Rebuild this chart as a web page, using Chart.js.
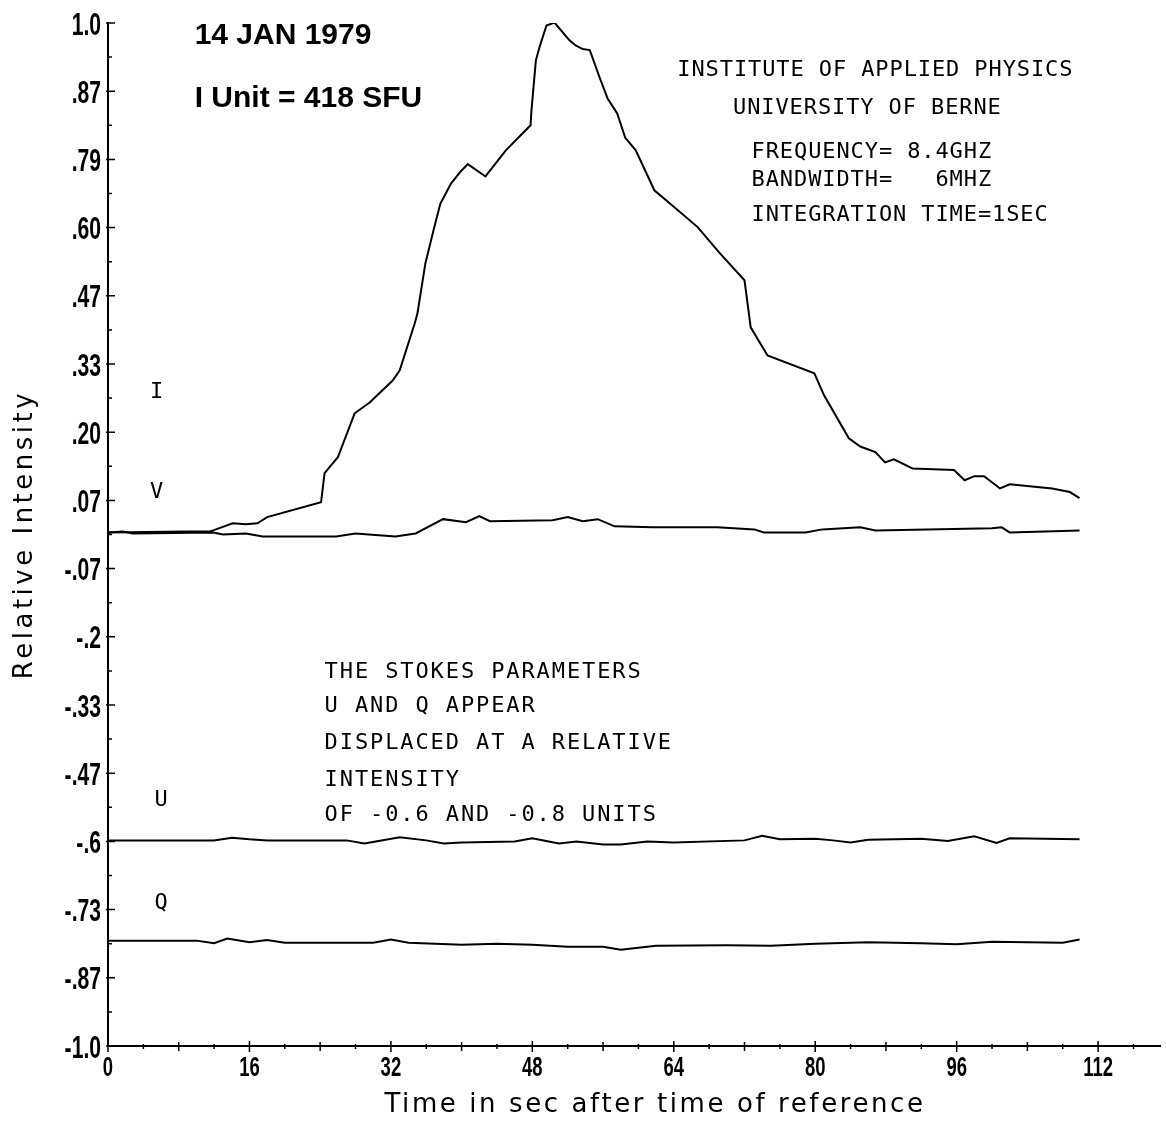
<!DOCTYPE html>
<html>
<head>
<meta charset="utf-8">
<title>14 JAN 1979 - Stokes parameters, 8.4 GHz</title>
<script src="https://cdn.jsdelivr.net/npm/chart.js@4.4.1/dist/chart.umd.min.js"></script>
<style>
  html, body { margin: 0; padding: 0; background: #fff; }
  #wrap { width: 1166px; height: 1121px; position: relative; }
</style>
</head>
<body>
<div id="wrap"><canvas id="stokes"></canvas></div>
<script>
// Values: time in sec, relative intensity (1 unit = 418 SFU)
const iTimes = [0, 8.8, 11.5, 11.9, 14.1, 15.6, 16.9, 18.0, 24.1, 24.5, 26.0, 27.9, 29.6, 32.2, 33.0,
  34.7, 35.0, 35.9, 36.9, 37.6, 38.8, 39.8, 40.7, 42.7, 45.0, 47.8, 47.9, 48.4, 48.8, 49.6,
  50.5, 52.2, 52.9, 53.7, 54.5, 55.6, 56.5, 57.6, 58.5, 59.7, 61.8, 63.5, 66.7, 69.2, 72.0,
  72.7, 74.6, 79.9, 81.0, 83.8, 85.1, 86.8, 87.9, 88.9, 91.0, 95.7, 96.9, 98.0, 99.1, 100.9,
  102.0, 106.8, 108.8, 109.9];
const iValues = [0.004, 0.006, 0.006, 0.008, 0.022, 0.020, 0.022, 0.034, 0.063, 0.12, 0.151, 0.237, 0.258, 0.301, 0.321,
  0.413, 0.432, 0.530, 0.600, 0.647, 0.686, 0.708, 0.724, 0.700, 0.751, 0.800, 0.829, 0.927, 0.952, 0.995,
  1.001, 0.966, 0.956, 0.949, 0.947, 0.894, 0.853, 0.823, 0.776, 0.751, 0.673, 0.648, 0.601, 0.550, 0.497,
  0.405, 0.350, 0.315, 0.272, 0.188, 0.172, 0.161, 0.141, 0.147, 0.129, 0.126, 0.106, 0.114, 0.114, 0.090,
  0.098, 0.090, 0.083, 0.071];

const vTimes = [0, 1.7, 2.8, 11.9, 13.0, 15.6, 17.5, 25.8, 28.0, 32.5, 34.8, 37.9, 40.5, 42.0, 43.2, 50.3,
  52.0, 53.7, 55.4, 57.3, 61.6, 68.9, 73.1, 74.2, 78.9, 80.8, 85.1, 86.8, 100.0, 101.1, 102.0, 109.9];
const vValues = [0.004, 0.006, 0.002, 0.004, 0.0, 0.002, -0.004, -0.004, 0.002, -0.004, 0.002, 0.030, 0.024, 0.036, 0.026, 0.028,
  0.034, 0.026, 0.030, 0.016, 0.014, 0.014, 0.010, 0.004, 0.004, 0.010, 0.014, 0.008, 0.012, 0.014, 0.004, 0.008];

// U and Q are plotted displaced by -0.6 and -0.8 units
const uTimes = [0, 12, 14, 16, 18, 27, 29, 33, 36, 38, 40, 46, 48, 51, 53, 56, 58, 61, 64, 72, 74, 76,
  80, 82, 84, 86, 92, 95, 98, 100.5, 102, 109.9];
const uValues = [-0.598, -0.598, -0.593, -0.596, -0.598, -0.598, -0.604, -0.592, -0.598, -0.604, -0.602,
  -0.600, -0.594, -0.604, -0.600, -0.606, -0.606, -0.600, -0.602, -0.598, -0.589, -0.596, -0.595, -0.598,
  -0.602, -0.597, -0.595, -0.599, -0.590, -0.603, -0.594, -0.596];

const qTimes = [0, 10, 12, 13.5, 16, 18, 20, 30, 32, 34, 40, 44, 48, 52, 56, 58, 62, 70, 75, 80, 86, 92,
  96, 100, 104, 108, 109.9];
const qValues = [-0.794, -0.794, -0.799, -0.790, -0.797, -0.793, -0.798, -0.798, -0.792, -0.798, -0.802,
  -0.800, -0.802, -0.806, -0.806, -0.812, -0.804, -0.803, -0.804, -0.800, -0.797, -0.799, -0.801, -0.796,
  -0.797, -0.798, -0.792];

// axis ticks (the printed y labels are kept as they appear on the original)
const xTickValues = [0, 16, 32, 48, 64, 80, 96, 112];
const xTickLabels = ["0", "16", "32", "48", "64", "80", "96", "112"];
const yTickLabels = ["1.0", ".87", ".79", ".60", ".47", ".33", ".20", ".07",
  "-.07", "-.2", "-.33", "-.47", "-.6", "-.73", "-.87", "-1.0"];
const yTickValues = yTickLabels.map((_, i) => 1 - (2 * i) / 15);

function toPoints(xs, ys) {
  return xs.map((x, i) => ({ x, y: ys[i] }));
}

const yTickFont = "bold 32px 'Liberation Sans', Arial, sans-serif";
const xTickFont = "bold 28px 'Liberation Sans', Arial, sans-serif";
const tickSquash = 0.66; // the plotter digits are very narrow
const bigFont = "bold 30px 'Liberation Sans', Arial, sans-serif";
const plotFont = "22px 'DejaVu Sans Mono', monospace";
const titleFont = "26px 'DejaVu Sans', sans-serif";

// text placed in data coordinates (time, intensity)
const notes = [
  { text: "14 JAN 1979", t: 9.8, v: 0.976, font: bigFont, sp: 0 },
  { text: "I Unit = 418 SFU", t: 9.8, v: 0.851, font: bigFont, sp: 0 },
  { text: "INSTITUTE OF APPLIED PHYSICS", t: 64.4, v: 0.907, font: plotFont, sp: 0.9 },
  { text: "UNIVERSITY OF BERNE", t: 70.7, v: 0.833, font: plotFont, sp: 0.9 },
  { text: "FREQUENCY= 8.4GHZ", t: 72.8, v: 0.747, font: plotFont, sp: 0.9 },
  { text: "BANDWIDTH=   6MHZ", t: 72.8, v: 0.692, font: plotFont, sp: 0.9 },
  { text: "INTEGRATION TIME=1SEC", t: 72.8, v: 0.624, font: plotFont, sp: 0.9 },
  { text: "THE STOKES PARAMETERS", t: 24.5, v: -0.269, font: plotFont, sp: 1.9 },
  { text: "U AND Q APPEAR", t: 24.5, v: -0.336, font: plotFont, sp: 1.9 },
  { text: "DISPLACED AT A RELATIVE", t: 24.5, v: -0.408, font: plotFont, sp: 1.9 },
  { text: "INTENSITY", t: 24.5, v: -0.481, font: plotFont, sp: 1.9 },
  { text: "OF -0.6 AND -0.8 UNITS", t: 24.5, v: -0.549, font: plotFont, sp: 1.9 },
  { text: "I", t: 5.5, v: 0.278, font: plotFont, sp: 0, align: "center" },
  { text: "V", t: 5.5, v: 0.083, font: plotFont, sp: 0, align: "center" },
  { text: "U", t: 6.0, v: -0.520, font: plotFont, sp: 0, align: "center" },
  { text: "Q", t: 6.0, v: -0.721, font: plotFont, sp: 0, align: "center" },
];

function squashedText(ctx, text, px, py, align) {
  ctx.save();
  ctx.translate(px, py);
  ctx.scale(tickSquash, 1);
  ctx.textAlign = align;
  ctx.fillText(text, 0, 0);
  ctx.restore();
}

const notesPlugin = {
  id: "notes",
  afterDraw(chart) {
    const { ctx, chartArea, scales: { x, y } } = chart;
    ctx.save();
    ctx.fillStyle = "#000";
    ctx.textBaseline = "middle";
    notes.forEach((n) => {
      ctx.font = n.font;
      ctx.letterSpacing = n.sp + "px";
      ctx.textAlign = n.align || "left";
      ctx.fillText(n.text, x.getPixelForValue(n.t), y.getPixelForValue(n.v));
    });

    // tick labels, narrow like the plotter's digits
    ctx.letterSpacing = "0px";
    ctx.textBaseline = "alphabetic";
    ctx.font = yTickFont;
    y.ticks.forEach((tk, i) => {
      squashedText(ctx, yTickLabels[i], chartArea.left - 7, y.getPixelForValue(tk.value) + 11.5, "right");
    });
    ctx.font = xTickFont;
    x.ticks.forEach((tk, i) => {
      squashedText(ctx, xTickLabels[i], x.getPixelForValue(tk.value), chartArea.bottom + 30, "center");
    });

    // axis titles
    ctx.font = titleFont;
    ctx.textBaseline = "middle";
    ctx.textAlign = "center";
    ctx.letterSpacing = "2.6px";
    ctx.fillText("Time in sec after time of reference", (chartArea.left + chartArea.right) / 2 + 21, 1105);
    ctx.translate(25, (chartArea.top + chartArea.bottom) / 2);
    ctx.rotate(-Math.PI / 2);
    ctx.letterSpacing = "3.5px";
    ctx.fillText("Relative Intensity", 0, 0);
    ctx.restore();
  },
};

// tick marks crossing the axes, with minor ticks in between
const tickMarks = {
  id: "tickMarks",
  afterDraw(chart) {
    const { ctx, chartArea, scales: { x, y } } = chart;
    const left = chartArea.left, bottom = chartArea.bottom;
    ctx.save();
    ctx.strokeStyle = "#000";
    ctx.lineWidth = 1.5;
    ctx.beginPath();
    yTickValues.forEach((v, i) => {
      const py = y.getPixelForValue(v);
      ctx.moveTo(left - 2, py);
      ctx.lineTo(left + 7, py);
      if (i < yTickValues.length - 1) {
        const pm = y.getPixelForValue((v + yTickValues[i + 1]) / 2);
        ctx.moveTo(left, pm);
        ctx.lineTo(left + 4, pm);
      }
    });
    for (let t = 0; t <= 116; t += 4) {
      const px = x.getPixelForValue(t);
      const up = t % 16 === 0 ? 5 : t % 8 === 0 ? 4 : 2;
      const down = t % 16 === 0 ? 6 : t % 8 === 0 ? 5 : 3;
      ctx.moveTo(px, bottom - up);
      ctx.lineTo(px, bottom + down);
    }
    ctx.stroke();
    ctx.restore();
  },
};

new Chart(document.getElementById("stokes"), {
  type: "line",
  data: {
    datasets: [
      { label: "I", data: toPoints(iTimes, iValues) },
      { label: "V", data: toPoints(vTimes, vValues) },
      { label: "U", data: toPoints(uTimes, uValues) },
      { label: "Q", data: toPoints(qTimes, qValues) },
    ],
  },
  options: {
    responsive: true,
    maintainAspectRatio: false,
    animation: false,
    layout: { padding: { top: 23, right: 6, bottom: 0, left: 0 } },
    plugins: { legend: { display: false }, tooltip: { enabled: false } },
    elements: {
      line: { borderColor: "#000", borderWidth: 2, tension: 0 },
      point: { radius: 0 },
    },
    scales: {
      x: {
        type: "linear",
        min: 0,
        max: 119,
        afterFit: (s) => { s.height = 75; },
        afterBuildTicks: (s) => { s.ticks = xTickValues.map((value) => ({ value })); },
        ticks: { display: false },
        grid: { display: true, drawOnChartArea: false, drawTicks: false },
        border: { display: true, color: "#000", width: 2 },
      },
      y: {
        type: "linear",
        min: -1,
        max: 1,
        afterFit: (s) => { s.width = 108; },
        afterBuildTicks: (s) => { s.ticks = yTickValues.map((value) => ({ value })); },
        ticks: { display: false },
        grid: { display: true, drawOnChartArea: false, drawTicks: false },
        border: { display: true, color: "#000", width: 2 },
      },
    },
  },
  plugins: [tickMarks, notesPlugin],
});
</script>
</body>
</html>
